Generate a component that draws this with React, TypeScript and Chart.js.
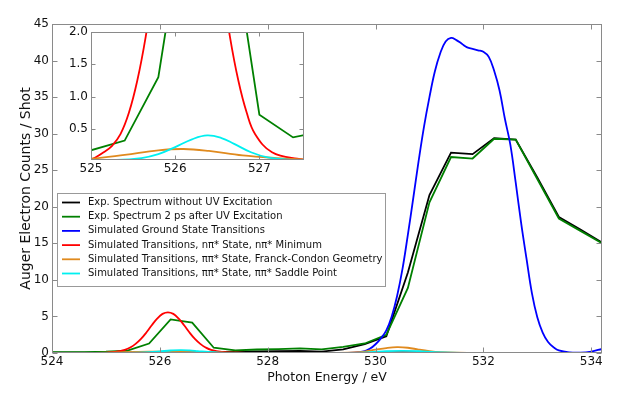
import React, { useEffect, useRef } from 'react';
import { Chart, registerables } from 'chart.js';

Chart.register(...registerables);

const FONT = '"DejaVu Sans", "Liberation Sans", sans-serif';

// ---- tick values ----
const xTicks = [524, 526, 528, 530, 532, 534];
const yTicks = [0, 5, 10, 15, 20, 25, 30, 35, 40, 45];
const insetXTicks = [525, 526, 527];
const insetYTicks = [0.5, 1.0, 1.5, 2.0];

// ---- experimental spectra ----
const expEnergy = [523.8, 524.2, 524.6, 525.0, 525.4, 525.8, 526.2, 526.6, 527.0, 527.4, 527.8, 528.2, 528.6, 529.0, 529.4, 529.8, 530.2, 530.6, 531.0, 531.4, 531.8, 532.2, 532.6, 533.0, 533.4, 533.8, 534.2];
const expNoUV = [0.05, 0.05, 0.05, 0.05, 0.06, 0.06, 0.07, 0.08, 0.12, 0.18, 0.22, 0.26, 0.3, 0.2, 0.5, 1.2, 2.3, 11.0, 21.6, 27.4, 27.2, 29.4, 29.2, 24.0, 18.6, 16.9, 15.1];
const exp2ps = [0.1, 0.1, 0.12, 0.17, 0.32, 1.3, 4.6, 4.15, 0.72, 0.37, 0.48, 0.52, 0.62, 0.5, 0.85, 1.3, 2.5, 8.9, 20.6, 26.8, 26.6, 29.3, 29.2, 23.8, 18.4, 16.7, 15.0];

// ---- simulated ground state ----
const groundEnergy = [524.0, 529.0, 529.6, 529.8, 529.9, 530.0, 530.1, 530.2, 530.3, 530.4, 530.5, 530.6, 530.7, 530.8, 530.9, 531.0, 531.1, 531.2, 531.3, 531.4, 531.5, 531.6, 531.7, 531.8, 531.9, 532.0, 532.1, 532.2, 532.3, 532.4, 532.5, 532.6, 532.7, 532.8, 532.9, 533.0, 533.1, 533.2, 533.3, 533.4, 533.6, 533.8, 534.0, 534.2];
const groundValues = [0, 0, 0.05, 0.25, 0.6, 1.2, 2.0, 3.1, 5.0, 7.8, 11.5, 16.2, 21.2, 26.3, 31.0, 35.0, 38.5, 41.0, 42.6, 43.1, 42.8, 42.3, 41.8, 41.6, 41.4, 41.2, 40.5, 38.6, 35.9, 32.0, 28.5, 23.3, 17.8, 12.9, 8.2, 4.9, 2.8, 1.5, 0.8, 0.35, 0.08, 0.05, 0.2, 0.55];

// ---- simulated n pi* state, n pi* minimum ----
const npiEnergy = [524.0, 524.8, 525.0, 525.15, 525.25, 525.35, 525.45, 525.55, 525.65, 525.75, 525.85, 525.95, 526.05, 526.15, 526.25, 526.35, 526.45, 526.55, 526.65, 526.75, 526.85, 526.95, 527.15, 527.45, 527.8, 529.6, 530.0, 530.3, 530.6, 530.9, 531.2, 531.6, 534.2];
const npiValues = [0, 0.01, 0.03, 0.14, 0.24, 0.42, 0.75, 1.25, 1.93, 2.8, 3.8, 4.7, 5.35, 5.57, 5.35, 4.7, 3.8, 2.8, 1.93, 1.25, 0.75, 0.42, 0.14, 0.04, 0.01, 0, 0.03, 0.12, 0.18, 0.1, 0.03, 0, 0];

// ---- simulated pi pi* state, Franck-Condon geometry ----
const fcEnergy = [524.0, 524.6, 525.0, 525.4, 525.8, 526.1, 526.4, 526.8, 527.2, 527.6, 528.2, 529.2, 529.6, 529.8, 530.0, 530.2, 530.4, 530.6, 530.8, 531.0, 531.2, 531.5, 532.0, 534.2];
const fcValues = [0.01, 0.02, 0.04, 0.1, 0.17, 0.19, 0.16, 0.09, 0.05, 0.025, 0.01, 0.02, 0.08, 0.2, 0.45, 0.68, 0.8, 0.72, 0.47, 0.26, 0.12, 0.04, 0.01, 0];

// ---- simulated pi pi* state, pi pi* saddle point ----
const saddleEnergy = [524.0, 525.3, 525.6, 525.8, 526.0, 526.2, 526.38, 526.55, 526.7, 526.9, 527.1, 527.4, 527.8, 529.5, 529.9, 530.2, 530.5, 530.8, 531.1, 531.4, 531.8, 534.2];
const saddleValues = [0, 0.02, 0.05, 0.11, 0.22, 0.34, 0.40, 0.36, 0.27, 0.14, 0.06, 0.02, 0, 0, 0.1, 0.25, 0.3, 0.25, 0.12, 0.04, 0.01, 0];

const seriesLabels = [
  'Exp. Spectrum without UV Excitation',
  'Exp. Spectrum 2 ps after UV Excitation',
  'Simulated Ground State Transitions',
  'Simulated Transitions, nπ* State, nπ* Minimum',
  'Simulated Transitions, ππ* State, Franck-Condon Geometry',
  'Simulated Transitions, ππ* State, ππ* Saddle Point',
];

const seriesColors = ['#000000', '#008000', '#0000ff', '#ff0000', '#e08a1e', '#00f0f0'];

const toPoints = (xs: number[], ys: number[]) => xs.map((x, i) => ({ x, y: ys[i] }));

function makeDataset(idx: number, xs: number[], ys: number[], smooth: boolean) {
  return {
    label: seriesLabels[idx],
    data: toPoints(xs, ys),
    borderColor: seriesColors[idx],
    backgroundColor: seriesColors[idx],
    borderWidth: 1.8,
    pointRadius: 0,
    pointHoverRadius: 0,
    fill: false,
    tension: smooth ? 0.4 : 0,
    cubicInterpolationMode: 'default',
    order: 6 - idx,
  };
}

const framePlugin = {
  id: 'frame',
  beforeDraw(chart: any, _a: any, opts: any) {
    if (!opts.background) return;
    const { ctx, chartArea: a } = chart;
    ctx.save();
    ctx.fillStyle = opts.background;
    ctx.fillRect(a.left, a.top, a.right - a.left, a.bottom - a.top);
    ctx.restore();
  },
  afterDatasetsDraw(chart: any, _a: any, opts: any) {
    const { ctx, chartArea: a, scales } = chart;
    const L = Math.round(a.left) + 0.5;
    const R = Math.round(a.right) - 0.5;
    const T = Math.round(a.top) + 0.5;
    const B = Math.round(a.bottom) - 0.5;
    const len = opts.len;
    ctx.save();
    ctx.strokeStyle = opts.color;
    ctx.lineWidth = 1;
    ctx.beginPath();
    for (const t of scales.x.ticks) {
      const p = Math.round(scales.x.getPixelForValue(t.value)) + 0.5;
      ctx.moveTo(p, B); ctx.lineTo(p, B - len);
      ctx.moveTo(p, T); ctx.lineTo(p, T + len);
    }
    for (const t of scales.y.ticks) {
      const p = Math.round(scales.y.getPixelForValue(t.value)) + 0.5;
      ctx.moveTo(L, p); ctx.lineTo(L + len, p);
      ctx.moveTo(R, p); ctx.lineTo(R - len, p);
    }
    ctx.stroke();
    ctx.strokeRect(L, T, R - L, B - T);
    ctx.restore();
  },
};

const boxLegendPlugin = {
  id: 'boxLegend',
  afterDraw(chart: any, _a: any, opts: any) {
    if (!opts.display) return;
    const { ctx } = chart;
    const { left, top, width, height, rowTop, rowGap, lineX0, lineX1, textX } = opts;
    ctx.save();
    ctx.fillStyle = '#ffffff';
    ctx.fillRect(left, top, width, height);
    ctx.strokeStyle = '#999999';
    ctx.lineWidth = 1;
    ctx.strokeRect(left + 0.5, top + 0.5, width, height);
    ctx.font = `10px ${FONT}`;
    ctx.textBaseline = 'middle';
    ctx.textAlign = 'left';
    chart.data.datasets.forEach((ds: any, i: number) => {
      const y = rowTop + i * rowGap;
      ctx.strokeStyle = ds.borderColor;
      ctx.lineWidth = 1.8;
      ctx.beginPath();
      ctx.moveTo(lineX0, y);
      ctx.lineTo(lineX1, y);
      ctx.stroke();
      ctx.fillStyle = '#111111';
      ctx.fillText(ds.label, textX, y);
    });
    ctx.restore();
  },
};

export default function App() {
  const mainRef = useRef<HTMLCanvasElement | null>(null);
  const insetRef = useRef<HTMLCanvasElement | null>(null);

  useEffect(() => {
    if (!mainRef.current || !insetRef.current) return;

    const tickFont = { family: FONT, size: 12 };

    const mainChart = new Chart(mainRef.current, {
      type: 'line',
      data: {
        datasets: [
          makeDataset(0, expEnergy, expNoUV, false),
          makeDataset(1, expEnergy, exp2ps, false),
          makeDataset(2, groundEnergy, groundValues, true),
          makeDataset(3, npiEnergy, npiValues, true),
          makeDataset(4, fcEnergy, fcValues, true),
          makeDataset(5, saddleEnergy, saddleValues, true),
        ] as any,
      },
      options: {
        responsive: false,
        animation: false,
        devicePixelRatio: 1,
        events: [],
        layout: { padding: { left: 0, top: 24, right: 41, bottom: 0 } },
        plugins: {
          legend: { display: false },
          tooltip: { enabled: false },
          frame: { color: '#8a8a8a', len: 5 },
          boxLegend: {
            display: true, left: 57, top: 193, width: 328, height: 93,
            rowTop: 202.5, rowGap: 14.2, lineX0: 62, lineX1: 80, textX: 88,
          },
        } as any,
        scales: {
          x: {
            type: 'linear',
            min: 524,
            max: 534.2,
            grid: { display: false, drawTicks: false },
            border: { display: false },
            afterBuildTicks: (s: any) => { s.ticks = xTicks.map((v) => ({ value: v })); },
            afterFit: (s: any) => { s.height = 42; s.paddingLeft = 0; s.paddingRight = 0; },
            ticks: { font: tickFont, color: '#111', padding: 2, maxRotation: 0, autoSkip: false, callback: (v: any) => String(v) },
            title: { display: true, text: 'Photon Energy / eV', font: { family: FONT, size: 12.5 }, color: '#111', padding: { top: 0, bottom: 9.5 } },
          },
          y: {
            type: 'linear',
            min: 0,
            max: 45,
            grid: { display: false, drawTicks: false },
            border: { display: false },
            afterBuildTicks: (s: any) => { s.ticks = yTicks.map((v) => ({ value: v })); },
            afterFit: (s: any) => { s.width = 52; s.paddingTop = 0; s.paddingBottom = 0; },
            ticks: { font: tickFont, color: '#111', padding: 3, autoSkip: false, callback: (v: any) => String(v) },
            title: { display: true, text: 'Auger Electron Counts / Shot', font: { family: FONT, size: 14 }, color: '#111', padding: { top: 17.5, bottom: 0 } },
          },
        } as any,
      },
      plugins: [framePlugin, boxLegendPlugin],
    } as any);

    const insetChart = new Chart(insetRef.current, {
      type: 'line',
      data: {
        datasets: [
          makeDataset(1, expEnergy, exp2ps, false),
          makeDataset(3, npiEnergy, npiValues, true),
          makeDataset(4, fcEnergy, fcValues, true),
          makeDataset(5, saddleEnergy, saddleValues, true),
        ] as any,
      },
      options: {
        responsive: false,
        animation: false,
        devicePixelRatio: 1,
        events: [],
        layout: { padding: { left: 0, top: 10, right: 16, bottom: 0 } },
        plugins: {
          legend: { display: false },
          tooltip: { enabled: false },
          frame: { color: '#8a8a8a', len: 4, background: '#ffffff' },
          boxLegend: { display: false },
        } as any,
        scales: {
          x: {
            type: 'linear',
            min: 525,
            max: 527.53,
            grid: { display: false, drawTicks: false },
            border: { display: false },
            afterBuildTicks: (s: any) => { s.ticks = insetXTicks.map((v) => ({ value: v })); },
            afterFit: (s: any) => { s.height = 22; s.paddingLeft = 0; s.paddingRight = 0; },
            ticks: { font: tickFont, color: '#111', padding: 2, maxRotation: 0, autoSkip: false, callback: (v: any) => String(v) },
          },
          y: {
            type: 'linear',
            min: 0.02,
            max: 2.0,
            grid: { display: false, drawTicks: false },
            border: { display: false },
            afterBuildTicks: (s: any) => { s.ticks = insetYTicks.map((v) => ({ value: v })); },
            afterFit: (s: any) => { s.width = 51; s.paddingTop = 0; s.paddingBottom = 0; },
            ticks: { font: tickFont, color: '#111', padding: 3, autoSkip: false, callback: (v: any) => Number(v).toFixed(1) },
          },
        } as any,
      },
      plugins: [framePlugin, boxLegendPlugin],
    } as any);

    return () => {
      mainChart.destroy();
      insetChart.destroy();
    };
  }, []);

  return (
    <div style={{ position: 'fixed', left: 0, top: 0, width: 643, height: 395, background: '#ffffff' }}>
      <canvas ref={mainRef} width={643} height={395} style={{ position: 'absolute', left: 0, top: 0, width: 643, height: 395 }} />
      <canvas ref={insetRef} width={280} height={160} style={{ position: 'absolute', left: 40, top: 22, width: 280, height: 160 }} />
    </div>
  );
}
